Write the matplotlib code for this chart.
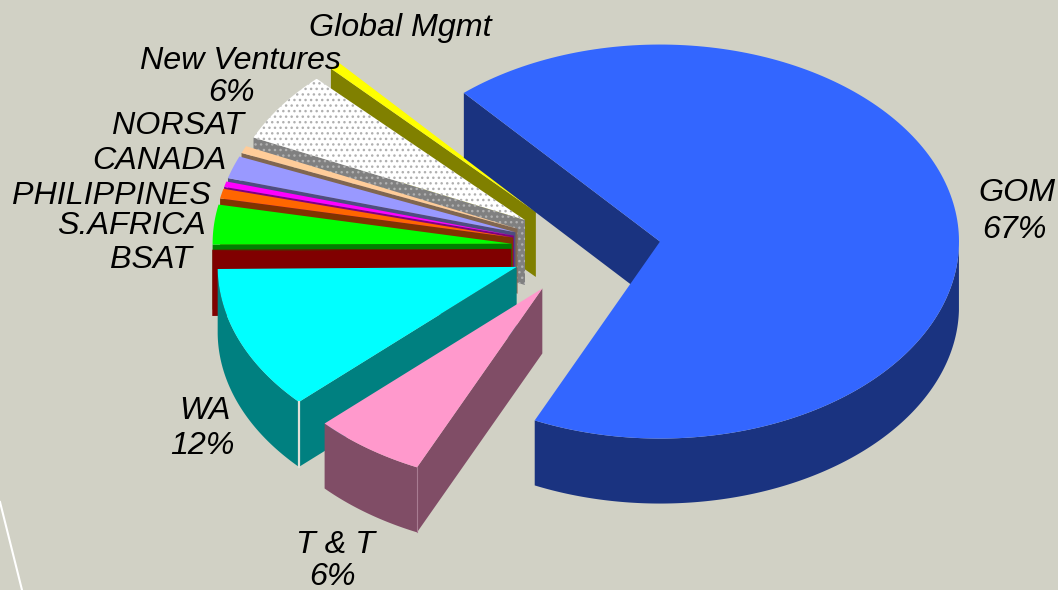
import numpy as np
import matplotlib
matplotlib.use('Agg')
import matplotlib.pyplot as plt
from matplotlib.patches import Polygon

# slices, clockwise from the start angle. one slice has no fill, it only shows as a gap
names = ['GOM', 'T & T', 'WA', 'BSAT', 'S.AFRICA', 'unlabelled', 'PHILIPPINES',
         'CANADA', 'NORSAT', 'New Ventures', 'gap', 'Global Mgmt']
values = [68.27, 6.1, 11.85, 0.1, 3.25, 0.8, 0.45, 1.85, 0.6, 5.85, 0.25, 0.63]
labels = ['GOM\n67%', 'T & T\n6%', 'WA\n12%', 'BSAT', 'S.AFRICA', '', 'PHILIPPINES',
          'CANADA', 'NORSAT', 'New Ventures\n6%', '', 'Global Mgmt']

top_colors = ['#3366FF', '#FF99CC', '#00FFFF', '#800000', '#00FF00', '#FF6600', '#FF00FF',
              '#9999FF', '#FFCC99', '#FFFFFF', None, '#FFFF00']
side_colors = ['#1A3380', '#804D66', '#008080', '#800000', '#008000', '#803300', '#800080',
               '#4D4D80', '#806650', '#808080', None, '#808000']

# centre x and baseline y of every text line
label_xy = [[(1017, 201), (1014, 238)], [(335, 553), (332, 585)], [(205, 419), (202, 454)],
            [(151, 268)], [(131, 234)], [], [(111, 204)],
            [(159, 169)], [(178, 134)], [(240, 69), (231, 101)], [], [(400, 36)]]

# pie geometry in pixels
cx, cy = 586, 248.5
rx, ry = 299, 197
depth = 65
explode = 0.25
start = 131.0
bg = '#D1D1C5'


def rim(a0, a1, ax_, ay_, n=80):
    t = np.radians(np.linspace(a0, a1, n))
    return np.column_stack([ax_ + rx * np.cos(t), ay_ - ry * np.sin(t)])


fig = plt.figure(figsize=(10.58, 5.90), dpi=100, facecolor=bg)
ax = fig.add_axes([0, 0, 1, 1])
ax.set_xlim(0, 1058)
ax.set_ylim(590, 0)
ax.axis('off')

# stray white line bottom left
ax.plot([0, 22], [502, 590], color='white', lw=1.5, zorder=1)

fracs = np.array(values) / sum(values) * 360
ends = start - np.cumsum(fracs)
starts = ends + fracs

mids = (starts + ends) / 2
order = np.argsort(-np.sin(np.radians(mids)))

z = 2
for i in order:
    if top_colors[i] is None:
        continue
    hi, lo = starts[i], ends[i]
    m = np.radians(mids[i])
    ax_ = cx + explode * rx * np.cos(m)
    ay_ = cy - explode * ry * np.sin(m)
    dotted = names[i] == 'New Ventures'
    side_kw = dict(facecolor=side_colors[i], edgecolor='none', lw=0)
    top_kw = dict(facecolor=top_colors[i], edgecolor='none', lw=0)
    if dotted:
        side_kw = dict(facecolor=side_colors[i], edgecolor='#B0B0B0', hatch='...', lw=0)
        top_kw = dict(facecolor='white', edgecolor='#B0B0B0', hatch='...', lw=0)

    # radial walls that face the viewer
    for a, visible in ((hi, np.cos(np.radians(hi)) < 0), (lo, np.cos(np.radians(lo)) > 0)):
        if visible:
            p = rim(a, a, ax_, ay_, 1)[0]
            ax.add_patch(Polygon([(ax_, ay_), p, p + [0, depth], (ax_, ay_ + depth)],
                                 zorder=z, **side_kw))
            z += 1

    # outer wall, only the front half of the ellipse
    ts = np.linspace(hi, lo, 200)
    ts = ts[np.sin(np.radians(ts)) < 0]
    if len(ts) > 1:
        arc = rim(ts[0], ts[-1], ax_, ay_, 200)
        ax.add_patch(Polygon(np.vstack([arc, arc[::-1] + [0, depth]]), zorder=z, **side_kw))
        z += 1

    # top face
    arc = rim(hi, lo, ax_, ay_, 200)
    ax.add_patch(Polygon(np.vstack([[ax_, ay_], arc]), zorder=z, **top_kw))
    z += 1

    # pale corner line on WA and T & T
    if names[i] in ('WA', 'T & T'):
        p = rim(hi, hi, ax_, ay_, 1)[0]
        col = '#E0E0D8' if names[i] == 'WA' else '#A87C92'
        ax.plot([p[0], p[0]], [p[1], p[1] + depth], color=col,
                lw=1.6 if names[i] == 'WA' else 0.8, zorder=z)
        z += 1

for lab, spots in zip(labels, label_xy):
    for line, (x, y) in zip(lab.split('\n'), spots):
        ax.text(x, y, line, ha='center', va='baseline', fontsize=23.2, style='italic',
                family='Liberation Sans', color='black', zorder=z, clip_on=False)

fig.savefig('out.png', dpi=100, facecolor=bg)
